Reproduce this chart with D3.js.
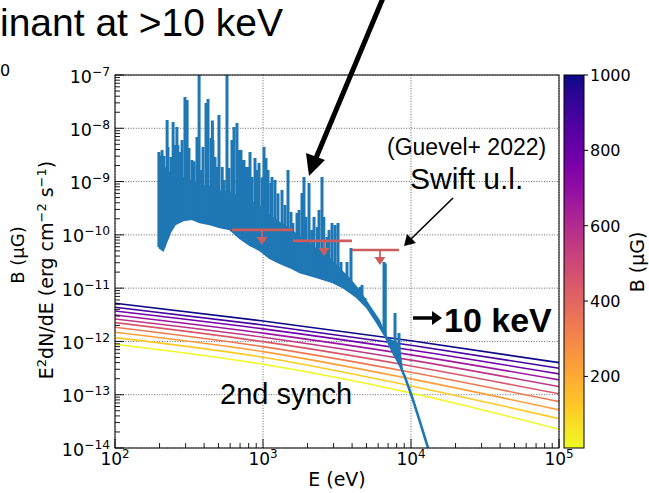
<!DOCTYPE html>
<html><head><meta charset="utf-8">
<script src="https://cdn.jsdelivr.net/npm/d3@7"></script>
<style>body{margin:0;background:#fff;} svg{display:block;}</style>
</head><body><svg id="c" width="649" height="493"></svg>
<script>
// ---------------- data ----------------
// lower continuum of the spectrum (E in eV, E^2 dN/dE)
const contE = [198,211,235,254,288,331,375,438,512,598,700,817,955,1114,1303,1521,1778,2317,2972,3473,4316,5047,5890,6670,7440,8430,9250,10160,11500,13030];
const contF = [5.9e-11,5.2e-11,1.13e-10,1.6e-10,1.9e-10,2.0e-10,1.75e-10,1.6e-10,1.4e-10,1.29e-10,8.7e-11,6.5e-11,5.2e-11,3.7e-11,3.0e-11,2.5e-11,2.0e-11,1.62e-11,1.3e-11,1.05e-11,6.8e-12,4.4e-12,2.32e-12,1.32e-12,6.9e-13,3.6e-13,1.9e-13,9.1e-14,3.1e-14,1.0e-14];
// upper envelope of the dense line forest
const forestE = [198,211,235,275,321,375,438,512,598,700,817,955,1114,1303,1521,1778,2080,2427,2838,3311,3873,4519,5284,6180,6580,7000,7450,7930,8430,8830];
const forestF = [2.54e-9,2.05e-9,1.51e-9,1.27e-9,1.07e-9,9.0e-10,8.3e-10,6.9e-10,6.4e-10,5.4e-10,4.5e-10,3.5e-10,2.4e-10,1.75e-10,1.35e-10,9.5e-11,6.8e-11,5.2e-11,3.7e-11,2.4e-11,1.55e-11,9.2e-12,4.8e-12,2.5e-12,1.64e-12,1.16e-12,1.07e-12,9.8e-13,8.2e-13,2.9e-13];
// emission lines (E in eV, peak)
const lineE = [198,204,208,214,225,228,239,247,254,262,266,275,284,297,307,316,331,342,358,370,381,393,412,425,445,455,459,474,489,504,530,546,571,589,617,637,667,688,710,733,744,768,791,817,843,883,910,940,985,1016,1048,1081,1129,1150,1205,1263,1344,1408,1476,1546,1591,1697,1751,1834,1892,1952,2046,2134,2212,2330,2390,2504,2575,2706,2792,2926,3066,3212,3365,3695,3931,4523,4666,4889,6571,6700,7800,8296];
const lineF = [3.59e-9,3.1e-9,3.9e-9,3.02e-9,1.43e-8,4.46e-9,2.89e-9,1.31e-8,4.86e-9,1.06e-8,4.86e-9,3.59e-9,6.03e-9,3.87e-8,3.40e-8,4.27e-9,2.54e-9,2.4e-9,6.87e-9,1.5e-7,1.65e-9,4.46e-9,2.98e-8,3.55e-8,6.58e-9,1.4e-8,6.0e-9,2.89e-9,1.88e-9,1.78e-8,1.88e-9,1.07e-9,1.5e-7,1.80e-9,6.03e-9,1.06e-8,1.26e-8,3.92e-9,3.92e-9,2.54e-9,2.54e-9,1.88e-9,1.88e-9,3.59e-9,1.22e-9,2.77e-9,1.65e-9,2.23e-9,1.2e-9,4.46e-9,2.77e-9,1.65e-9,9.4e-10,1.22e-9,1.07e-9,6.0e-10,6.96e-10,3.64e-10,1.65e-9,2.69e-10,1.67e-10,2.58e-10,2.93e-10,6.11e-10,1.22e-9,2.17e-10,9.41e-10,1.24e-10,2.17e-10,1.4e-10,2.93e-10,1.22e-9,2.17e-10,9.13e-11,1.24e-10,1.67e-10,1.53e-10,1.67e-10,3.10e-11,3.10e-11,5.68e-11,1.05e-11,1.15e-11,6.55e-12,3.1e-11,2.9e-11,3.42e-12,1.44e-12];
// Swift upper limits
const ulLo  = [617,1590,3990];
const ulHi  = [1590,3990,8300];
const ulMid = [985,2580,6170];
const ulF   = [1.24e-10,7.7e-11,5.2e-11];
// second synchrotron curves
const synE = [100,1000,10000,100000];
const synB = [10,120,230,340,450,560,670,780,890,1000];
const synF0010 = [8.86e-13,3.73e-13,1.08e-13,2.25e-14];
const synF0120 = [1.18e-12,5.05e-13,1.46e-13,3.56e-14];
const synF0230 = [1.49e-12,6.44e-13,1.98e-13,5.19e-14];
const synF0340 = [1.85e-12,7.99e-13,2.64e-13,7.42e-14];
const synF0450 = [2.25e-12,9.91e-13,3.47e-13,1.04e-13];
const synF0560 = [2.64e-12,1.20e-12,4.46e-13,1.42e-13];
const synF0670 = [3.14e-12,1.43e-12,5.60e-13,1.90e-13];
const synF0780 = [3.73e-12,1.72e-12,6.92e-13,2.46e-13];
const synF0890 = [4.38e-12,2.04e-12,8.49e-13,3.14e-13];
const synF1000 = [5.21e-12,2.42e-12,1.03e-12,4.00e-13];
const synF = [synF0010,synF0120,synF0230,synF0340,synF0450,synF0560,synF0670,synF0780,synF0890,synF1000];
// ticks
const xTickExp = [2,3,4,5];
const yTickExp = [-14,-13,-12,-11,-10,-9,-8,-7];
const cbTicks = [200,400,600,800,1000];
const cbDomain = [10,1000];

// ---------------- layout ----------------
const L=115,R=559,T=75,B=448;
const CBX=564,CBW=20;
const FONT="'DejaVu Sans', sans-serif";
const HEL="'Liberation Sans', Arial, Helvetica, sans-serif";
const BLUE="#1f77b4", RED="#cd5c5c";

const x=d3.scaleLog().domain([1e2,1e5]).range([L,R]);
const y=d3.scaleLog().domain([1e-14,1e-7]).range([B,T]);
const cmap = b => d3.interpolatePlasma(1-(b-cbDomain[0])/(cbDomain[1]-cbDomain[0]));
const cy = d3.scaleLinear().domain(cbDomain).range([B,T]);

const svg=d3.select('#c');
const defs=svg.append('defs');
defs.append('clipPath').attr('id','clip').append('rect')
  .attr('x',L).attr('y',T).attr('width',R-L).attr('height',B-T);

// grid
const grid=svg.append('g').attr('stroke','#000').attr('stroke-width',0.8)
  .attr('stroke-dasharray','1,1.6').attr('opacity',0.75);
xTickExp.forEach(e=>grid.append('line').attr('x1',x(10**e)).attr('x2',x(10**e)).attr('y1',T).attr('y2',B));
yTickExp.forEach(e=>grid.append('line').attr('x1',L).attr('x2',R).attr('y1',y(10**e)).attr('y2',y(10**e)));

const plot=svg.append('g').attr('clip-path','url(#clip)');

// synchrotron curves
const synLine=d3.line().x(d=>x(d[0])).y(d=>y(d[1])).curve(d3.curveMonotoneX);
synF.forEach((arr,i)=>{
  plot.append('path').attr('d',synLine(synE.map((e,j)=>[e,arr[j]])))
    .attr('fill','none').attr('stroke',cmap(synB[i])).attr('stroke-width',1.6);
});

// spectrum: forest area
const lg=v=>Math.log10(v);
const contInterp=d3.scaleLinear().domain(contE.map(lg)).range(contF.map(lg)).clamp(true);
const lastForest=forestE[forestE.length-1];
const poly=forestE.map((e,i)=>[x(e),y(forestF[i])]);
for(let i=contE.length-1;i>=0;i--){ if(contE[i]<=lastForest) poly.push([x(contE[i]),y(contF[i])]); }
plot.append('path').attr('d','M'+poly.map(p=>p.join(',')).join('L')+'Z').attr('fill',BLUE);
// continuum line
plot.append('path').attr('d',d3.line().x(d=>x(d[0])).y(d=>y(d[1]))(contE.map((e,i)=>[e,contF[i]])))
  .attr('fill','none').attr('stroke',BLUE).attr('stroke-width',2.6);
// spikes
lineE.forEach((e,i)=>{
  plot.append('line').attr('x1',x(e)).attr('x2',x(e))
    .attr('y1',y(10**contInterp(lg(e)))).attr('y2',y(lineF[i]))
    .attr('stroke',BLUE).attr('stroke-width',3);
});

// upper limits
ulF.forEach((f,i)=>{
  const yy=y(f), xm=x(ulMid[i]);
  svg.append('line').attr('x1',x(ulLo[i])).attr('x2',x(ulHi[i])).attr('y1',yy).attr('y2',yy)
    .attr('stroke',RED).attr('stroke-width',2.6);
  svg.append('line').attr('x1',xm).attr('x2',xm).attr('y1',yy).attr('y2',yy+9)
    .attr('stroke',RED).attr('stroke-width',1.8);
  svg.append('path').attr('d',`M${xm-5.5},${yy+7}L${xm+5.5},${yy+7}L${xm},${yy+15}Z`).attr('fill',RED);
});

// frame
svg.append('rect').attr('x',L).attr('y',T).attr('width',R-L).attr('height',B-T)
  .attr('fill','none').attr('stroke','#000').attr('stroke-width',1);

// ticks (inward, left & bottom)
const tk=svg.append('g').attr('stroke','#000').attr('stroke-width',0.9);
xTickExp.forEach(e=>{
  tk.append('line').attr('x1',x(10**e)).attr('x2',x(10**e)).attr('y1',B).attr('y2',B-9);
  if(e<5) for(let k=2;k<10;k++){ const xx=x(k*10**e); tk.append('line').attr('x1',xx).attr('x2',xx).attr('y1',B).attr('y2',B-5); }
});
yTickExp.forEach(e=>{
  tk.append('line').attr('x1',L).attr('x2',L+9).attr('y1',y(10**e)).attr('y2',y(10**e));
  if(e<-7) for(let k=2;k<10;k++){ const yy=y(k*10**e); tk.append('line').attr('x1',L).attr('x2',L+5).attr('y1',yy).attr('y2',yy); }
});

// tick labels
function powLabel(sel,exp,fs){
  sel.append('tspan').text('10').attr('font-size',fs);
  sel.append('tspan').text(exp<0?'\u2212'+(-exp):String(exp)).attr('font-size',fs*0.7).attr('dy',-fs*0.4);
}
xTickExp.forEach(e=>{
  const t=svg.append('text').attr('x',x(10**e)).attr('y',465).attr('text-anchor','middle')
    .attr('font-family',FONT).attr('fill','#000');
  powLabel(t,e,17);
});
yTickExp.forEach(e=>{
  const t=svg.append('text').attr('x',110).attr('y',y(10**e)+7.5).attr('text-anchor','end')
    .attr('font-family',FONT).attr('fill','#000');
  powLabel(t,e,17.5);
});

// axis labels
svg.append('text').attr('x',337).attr('y',486).attr('text-anchor','middle')
  .attr('font-family',FONT).attr('font-size',19).text('E (eV)');
const yl=svg.append('text').attr('transform','translate(53,270) rotate(-90)').attr('text-anchor','middle')
  .attr('font-family',FONT).attr('font-size',19);
yl.append('tspan').text('E');
yl.append('tspan').text('2').attr('font-size',13).attr('dy',-7);
yl.append('tspan').text('dN/dE (erg cm').attr('dy',7);
yl.append('tspan').text('\u22122').attr('font-size',13).attr('dy',-7);
yl.append('tspan').text(' s').attr('dy',7);
yl.append('tspan').text('\u22121').attr('font-size',13).attr('dy',-7);
yl.append('tspan').text(')').attr('dy',7);
svg.append('text').attr('transform','translate(24,255) rotate(-90)').attr('text-anchor','middle')
  .attr('font-family',FONT).attr('font-size',18).text('B (\u03bcG)');
svg.append('text').attr('x',0).attr('y',76).attr('font-family',FONT).attr('font-size',16).text('0');

// colorbar
const grad=defs.append('linearGradient').attr('id','cb').attr('x1',0).attr('x2',0).attr('y1',1).attr('y2',0);
d3.range(0,21).forEach(i=>{
  const b=cbDomain[0]+(cbDomain[1]-cbDomain[0])*i/20;
  grad.append('stop').attr('offset',i/20).attr('stop-color',cmap(b));
});
svg.append('rect').attr('x',CBX).attr('y',T).attr('width',CBW).attr('height',B-T)
  .attr('fill','url(#cb)').attr('stroke','#000').attr('stroke-width',1);
cbTicks.forEach(v=>{
  svg.append('line').attr('x1',CBX+CBW).attr('x2',CBX+CBW+4).attr('y1',cy(v)).attr('y2',cy(v)).attr('stroke','#000');
  svg.append('text').attr('x',CBX+CBW+6).attr('y',cy(v)+6).attr('font-family',FONT).attr('font-size',16).text(v);
});
svg.append('text').attr('transform','translate(644,262) rotate(-90)').attr('text-anchor','middle')
  .attr('font-family',FONT).attr('font-size',19).text('B (\u03bcG)');

// annotations
svg.append('text').attr('x',0).attr('y',36).attr('font-family',HEL).attr('font-size',39).text('inant at >10 keV');
svg.append('text').attr('x',220).attr('y',404).attr('font-family',HEL).attr('font-size',29).text('2nd synch');
svg.append('text').attr('x',410).attr('y',189).attr('font-family',HEL).attr('font-size',30).text('Swift u.l.');
svg.append('text').attr('x',387).attr('y',155).attr('font-family',HEL).attr('font-size',23).text('(Guevel+ 2022)');
svg.append('text').attr('x',444).attr('y',332).attr('font-family',HEL).attr('font-size',34).attr('font-weight','bold').text('10 keV');
// small bold arrow
svg.append('line').attr('x1',413).attr('x2',434).attr('y1',318).attr('y2',318).attr('stroke','#000').attr('stroke-width',3.5);
svg.append('path').attr('d','M432,311L442,318L432,325Z').attr('fill','#000');
// big arrow
svg.append('line').attr('x1',383).attr('y1',-2).attr('x2',316).attr('y2',158).attr('stroke','#000').attr('stroke-width',5);
svg.append('path').attr('d','M306,153L309,176L325,160Z').attr('fill','#000');
// swift arrow
svg.append('line').attr('x1',453).attr('y1',198).attr('x2',410).attr('y2',240).attr('stroke','#000').attr('stroke-width',1.6);
svg.append('path').attr('d','M404,246L407,234L416,243Z').attr('fill','#000');
</script></body></html>
